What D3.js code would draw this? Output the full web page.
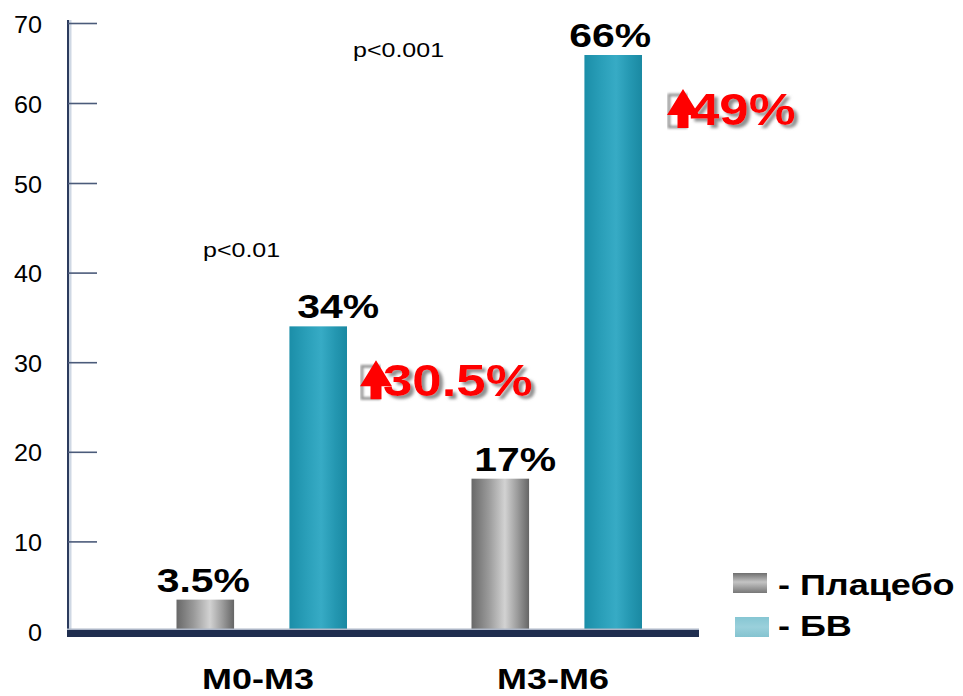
<!DOCTYPE html>
<html>
<head>
<meta charset="utf-8">
<script src="https://cdn.jsdelivr.net/npm/d3@7"></script>
<style>
  html, body { margin: 0; padding: 0; background: #ffffff; }
  svg { display: block; font-family: "Liberation Sans", Arial, sans-serif; }
</style>
</head>
<body>
<svg id="chart" width="963" height="696"></svg>
<script>
// ---- data ----
const categories = ["M0-M3", "M3-M6"];
const seriesNames = ["Плацебо", "БВ"];
const placeboValues = [3.5, 17];
const bvValues = [34, 66];
const pValueLabels = ["p<0.01", "p<0.001"];
const yTickValues = [0, 10, 20, 30, 40, 50, 60, 70];

// ---- layout ----
const svg = d3.select("#chart");
const defs = svg.append("defs");

// y scale: the axis is drawn with tighter spacing above 50
const y = d3.scaleLinear().domain([0, 50, 70]).range([631, 183, 23]);
const x0 = d3.scaleBand().domain(categories).range([114.5, 704.5]).padding(0);
const x1 = d3.scaleBand().domain(seriesNames).range([62, 232.5]).paddingInner(0.49).paddingOuter(0);

const rows = categories.map((c, i) => ({
  cat: c,
  values: [
    { s: seriesNames[0], v: placeboValues[i] },
    { s: seriesNames[1], v: bvValues[i] }
  ]
}));

// gradients
function hGrad(id, stops) {
  const g = defs.append("linearGradient").attr("id", id)
    .attr("x1", "0%").attr("x2", "100%").attr("y1", "0%").attr("y2", "0%");
  stops.forEach(([o, c]) => g.append("stop").attr("offset", o).attr("stop-color", c));
}
function vGrad(id, stops) {
  const g = defs.append("linearGradient").attr("id", id)
    .attr("x1", "0%").attr("x2", "0%").attr("y1", "0%").attr("y2", "100%");
  stops.forEach(([o, c]) => g.append("stop").attr("offset", o).attr("stop-color", c));
}
hGrad("gPlacebo", [["0%", "#686868"], ["30%", "#9a9a9a"], ["58%", "#d2d2d2"], ["80%", "#9b9b9b"], ["100%", "#656565"]]);
hGrad("gBV", [["0%", "#1b8ea8"], ["30%", "#2a9fb9"], ["55%", "#37abc5"], ["80%", "#2497b1"], ["100%", "#1a89a2"]]);
vGrad("gLegPlacebo", [["0%", "#6e6e6e"], ["45%", "#c4c4c4"], ["60%", "#b0b0b0"], ["100%", "#777777"]]);
vGrad("gLegBV", [["0%", "#86c6d3"], ["50%", "#9ad0db"], ["100%", "#84c3d0"]]);
const fills = { "Плацебо": "url(#gPlacebo)", "БВ": "url(#gBV)" };

const shadow = defs.append("filter").attr("id", "redShadow")
  .attr("x", "-20%").attr("y", "-20%").attr("width", "150%").attr("height", "150%");
shadow.append("feDropShadow").attr("dx", 3).attr("dy", 3).attr("stdDeviation", 1.4)
  .attr("flood-color", "#7a7a7a").attr("flood-opacity", 0.85);
const soft = defs.append("filter").attr("id", "soft");
soft.append("feGaussianBlur").attr("stdDeviation", 0.8);

// text helper with horizontal stretch
function stext(parent, tx, ty, str, o) {
  return parent.append("text")
    .attr("transform", `translate(${tx},${ty}) scale(${o.sx || 1.2},1)`)
    .attr("text-anchor", o.anchor || "start")
    .attr("font-size", o.size)
    .attr("font-weight", o.weight || "normal")
    .attr("fill", o.fill || "#000")
    .text(str);
}

// ---- y axis ----
const axisX = 68;
svg.append("line").attr("x1", axisX + 2).attr("x2", axisX + 2)
  .attr("y1", y(70) - 3).attr("y2", y(0))
  .attr("stroke", "#cfd8e4").attr("stroke-width", 3);
svg.append("line").attr("x1", axisX).attr("x2", axisX)
  .attr("y1", y(70) - 3).attr("y2", y(0))
  .attr("stroke", "#2c3b5e").attr("stroke-width", 2);

const yAxis = d3.axisRight(y).tickValues(yTickValues).tickSize(29).tickFormat("");
const yg = svg.append("g").attr("transform", `translate(${axisX},0)`).call(yAxis);
yg.select(".domain").remove();
yg.selectAll(".tick line").attr("stroke", "#4b5b7a").attr("stroke-width", 1.6);

yTickValues.forEach(t => {
  stext(svg, 42, y(t) + 9.5, String(t), { size: 24, sx: 1.05, anchor: "end" });
});

// ---- bars ----
const groups = svg.selectAll(".grp").data(rows).join("g")
  .attr("class", "grp")
  .attr("transform", d => `translate(${x0(d.cat)},0)`);

groups.selectAll("rect").data(d => d.values).join("rect")
  .attr("x", d => x1(d.s))
  .attr("width", x1.bandwidth())
  .attr("y", d => y(d.v))
  .attr("height", d => y(0) - y(d.v))
  .attr("fill", d => fills[d.s]);

// value labels, nudged sideways per bar
const labelDx = [[-2, 20], [15, -3]];
groups.each(function (d, gi) {
  const g = d3.select(this);
  d.values.forEach((v, si) => {
    stext(g, x1(v.s) + x1.bandwidth() / 2 + labelDx[gi][si], y(v.v) - 8, v.v + "%",
      { size: 33, weight: "bold", anchor: "middle", sx: 1.24 });
  });
});

// ---- baseline ----
svg.append("rect").attr("x", axisX - 1).attr("y", y(0) - 2.5).attr("width", 632).attr("height", 2)
  .attr("fill", "#aeb7c8");
svg.append("rect").attr("x", axisX - 1).attr("y", y(0) - 1).attr("width", 632).attr("height", 7)
  .attr("fill", "#1f2e4f");

// ---- category labels ----
categories.forEach(c => {
  stext(svg, x0(c) + x0.bandwidth() / 2 - 4, 689, c,
    { size: 29, weight: "bold", anchor: "middle", sx: 1.24 });
});

// ---- p values ----
const pPos = [[203, 257], [353, 57]];
pValueLabels.forEach((p, i) => {
  stext(svg, pPos[i][0], pPos[i][1], p, { size: 20.5, sx: 1.22 });
});

// ---- increase annotations (БВ minus Плацебо) ----
const incDx = [36, 48];
categories.forEach((c, i) => {
  const diff = +(bvValues[i] - placeboValues[i]).toFixed(1);
  const tx = x0(c) + x1("БВ") + x1.bandwidth() + incDx[i];
  const ty = y(bvValues[i]) + 70;
  const ann = svg.append("g");
  stext(ann, tx, ty, diff + "%", { size: 44, weight: "bold", fill: "#ff0000", sx: 1.2 })
    .attr("filter", "url(#redShadow)");
  const ax = tx - 23;
  // gray box glyph behind the arrow
  ann.append("rect").attr("x", ax + 2).attr("y", ty - 30).attr("width", 17).attr("height", 32)
    .attr("fill", "none").attr("stroke", "#9a9a9a").attr("stroke-width", 3)
    .attr("filter", "url(#soft)");
  const arrow = d3.path();
  arrow.moveTo(ax + 16, ty - 36);
  arrow.lineTo(ax + 32, ty - 10);
  arrow.lineTo(ax + 21.5, ty - 10);
  arrow.lineTo(ax + 21.5, ty + 3);
  arrow.lineTo(ax + 10.5, ty + 3);
  arrow.lineTo(ax + 10.5, ty - 10);
  arrow.lineTo(ax, ty - 10);
  arrow.closePath();
  ann.append("path").attr("d", arrow.toString()).attr("fill", "#ff0000");
});

// ---- legend ----
const legend = svg.append("g");
const legFills = ["url(#gLegPlacebo)", "url(#gLegBV)"];
const legRows = [{ sx: 733, sy: 573, ty: 595 }, { sx: 735, sy: 617, ty: 636 }];
seriesNames.forEach((s, i) => {
  legend.append("rect").attr("x", legRows[i].sx).attr("y", legRows[i].sy)
    .attr("width", 34).attr("height", 20).attr("fill", legFills[i]);
  stext(legend, 778, legRows[i].ty, "- " + s, { size: 30, weight: "bold", sx: 1.2 });
});
</script>
</body>
</html>
